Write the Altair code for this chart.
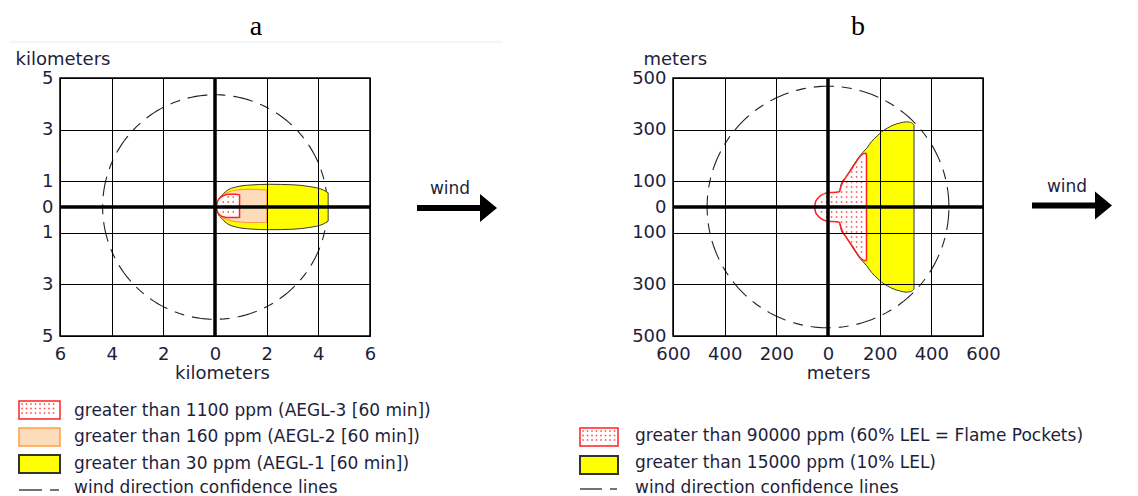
import altair as alt
import numpy as np
import pandas as pd

FONT = "DejaVu Sans"
TXT = "#1e1e3c"

# ---------------- panel a (kilometers) ----------------
XT_A = [-6, -4, -2, 0, 2, 4, 6]
YT_A = [-5, -3, -1, 0, 1, 3, 5]
R_A = 4.35
A_YEL_X = [0.05, 0.12, 0.25, 0.44, 0.83, 1.34, 2.12, 3.02, 3.67, 4.19, 4.38]
A_YEL_H = [0.0, 0.25, 0.43, 0.62, 0.78, 0.85, 0.88, 0.86, 0.79, 0.66, 0.55]
A_ORA_X = [0.08, 0.15, 0.3, 0.5, 0.8, 1.2, 1.6, 2.0]
A_ORA_TOP = [0.0, 0.25, 0.45, 0.57, 0.65, 0.68, 0.68, 0.66]
A_ORA_BOT = [0.0, -0.22, -0.4, -0.5, -0.57, -0.6, -0.6, -0.6]
A_RED_X = [0.05, 0.1, 0.2, 0.35, 0.55, 0.8, 0.95]
A_RED_TOP = [0.0, 0.22, 0.36, 0.45, 0.49, 0.49, 0.47]
A_RED_BOT = [0.0, -0.2, -0.32, -0.39, -0.41, -0.41, -0.4]
LEG_A = ["greater than 1100 ppm (AEGL-3 [60 min])",
         "greater than 160 ppm (AEGL-2 [60 min])",
         "greater than 30 ppm (AEGL-1 [60 min])",
         "wind direction confidence lines"]

# ---------------- panel b (meters) ----------------
XT_B = [-600, -400, -200, 0, 200, 400, 600]
YT_B = [-500, -300, -100, 0, 100, 300, 500]
R_B = 468
B_YEL_X = [45, 52, 71, 97, 123, 150, 168, 190, 207, 230, 252, 280, 303, 320, 333]
B_YEL_H = [60, 92, 118, 160, 198, 228, 253, 275, 291, 306, 317, 326, 330, 328, 318]
B_RED_X = [-52, -48, -40, -26, -10, 6, 30, 45, 50, 58, 71, 85, 97, 110, 123, 136, 146, 149]
B_RED_H = [0, 20, 33, 46, 53, 56, 57, 60, 78, 98, 118, 138, 156, 176, 195, 206, 208, 205]
LEG_B = ["greater than 90000 ppm (60% LEL = Flame Pockets)",
         "greater than 15000 ppm (10% LEL)",
         "wind direction confidence lines"]

YEL, YEL_S = "#ffff00", "#3a3a2a"
ORA, ORA_S = "#fddcbc", "#ffa040"
RED, RED_S = "#ffffff", "#ff2020"
DOT = "#ff3a3a"

ONE = pd.DataFrame({"k": [0]})
ARROW = "M-1,-0.075L0.575,-0.075L0.575,-0.35L1,0L0.575,0.35L0.575,0.075L-1,0.075Z"


def common_axis():
    return dict(grid=True, gridColor="black", gridOpacity=1, gridWidth=1,
                ticks=False, domain=False, labelFont=FONT, labelFontSize=18,
                labelColor=TXT, titleFont=FONT, titleFontSize=18,
                titleFontWeight="normal", titleColor=TXT, zindex=1,
                labelFlush=False, labelOverlap=False,
                labelExpr="abs(datum.value)")


def text(label, px, py, size=17, align="left", baseline="middle", font=FONT, color=TXT):
    return alt.Chart(ONE).mark_text(text=label, font=font, fontSize=size, align=align,
                                    baseline=baseline, color=color).encode(
        x=alt.value(px), y=alt.value(py))


def hrule(x1, x2, py, color, width, opacity=1):
    return alt.Chart(ONE).mark_rule(color=color, strokeWidth=width, opacity=opacity).encode(
        x=alt.value(x1), x2=alt.value(x2), y=alt.value(py))


def swatch(x1, x2, y1, y2, fill, stroke, sw):
    return alt.Chart(ONE).mark_rect(fill=fill, stroke=stroke, strokeWidth=sw).encode(
        x=alt.value(x1), x2=alt.value(x2), y=alt.value(y1), y2=alt.value(y2))


def swatch_dots(x1, x2, y1, y2, color, step=4.5):
    # dotted texture inside a legend swatch (screen pixels)
    gx = np.arange(x1 + 3, x2 - 2, step)
    gy = np.arange(y1 + 3, y2 - 2, step)
    xx, yy = np.meshgrid(gx, gy)
    df = pd.DataFrame({"px": xx.ravel(), "py": yy.ravel()})
    return alt.Chart(df).mark_square(size=2.2, color=color, opacity=1).encode(
        x=alt.X("px:Q", scale=None), y=alt.Y("py:Q", scale=None))


def arrow(px, py):
    return alt.Chart(ONE).mark_point(shape=ARROW, size=6400, filled=True, color="black",
                                     opacity=1).encode(x=alt.value(px), y=alt.value(py))


def base_layers(xdom, ydom, xt, yt, unit, xtitle_x, ytitle_x, R):
    sx = alt.Scale(domain=xdom, nice=False, zero=False)
    sy = alt.Scale(domain=ydom, nice=False, zero=False)
    ax = alt.Axis(values=xt, title=unit, titleX=xtitle_x, titleY=42, titleAlign="center",
                  titleBaseline="alphabetic", labelPadding=9, **common_axis())
    ay = alt.Axis(values=yt, title=unit, titleAngle=0, titleX=ytitle_x, titleY=-14,
                  titleAlign="left", titleBaseline="alphabetic", labelPadding=7,
                  **common_axis())
    X = alt.X("x:Q", scale=sx, axis=ax)
    Y = alt.Y("y:Q", scale=sy, axis=ay)
    t = np.linspace(0, 2 * np.pi, 241)
    circ = pd.DataFrame({"x": R * np.cos(t), "y": R * np.sin(t), "i": np.arange(len(t))})
    circle = alt.Chart(circ).mark_line(color="#222222", strokeWidth=1.1,
                                       strokeDash=[20, 8, 10, 8]).encode(
        x=X, y=Y, order="i:Q")
    return X, Y, circle


def area(xs, top, bot, X, Y, fill, stroke, sw):
    df = pd.DataFrame({"x": xs, "y": top, "y2": bot})
    return alt.Chart(df).mark_area(fill=fill, fillOpacity=1, stroke=stroke, strokeWidth=sw,
                                   interpolate="monotone").encode(x=X, y=Y, y2="y2:Q")


def area_dots(xs, top, bot, X, Y, ux, uy, color, step=5.0, margin=2.0):
    # dotted fill texture of a region; ux, uy = data units per screen pixel
    xs, top, bot = np.array(xs, float), np.array(top, float), np.array(bot, float)
    gx = np.arange(xs.min() + margin * ux, xs.max() - margin * ux, step * ux)
    ys0 = np.floor(bot.min() / (step * uy)) * step * uy
    gy = np.arange(ys0, top.max(), step * uy)
    px, py = [], []
    for x in gx:
        t = np.interp(x, xs, top) - margin * uy
        b = np.interp(x, xs, bot) + margin * uy
        for y in gy:
            if b < y < t:
                px.append(x)
                py.append(y)
    df = pd.DataFrame({"x": px, "y": py})
    return alt.Chart(df).mark_square(size=2.2, color=color, opacity=1).encode(x=X, y=Y)


def zero_rules(X, Y):
    vx = alt.Chart(pd.DataFrame({"x": [0]})).mark_rule(color="black", strokeWidth=3.5).encode(x=X)
    hy = alt.Chart(pd.DataFrame({"y": [0]})).mark_rule(color="black", strokeWidth=3.5).encode(y=Y)
    return [vx, hy]


# ----- panel a -----
UXA, UYA = 12 / 310, 10 / 258
Xa, Ya, circ_a = base_layers([-6, 6], [-5, 5], XT_A, YT_A, "kilometers", 162, -45, R_A)
layers_a = [
    hrule(-50, 517, -69, "white", 0, opacity=0),      # layout anchor
    hrule(-50, 442, -36, "#ececec", 1),
    text("a", 196, -43, size=28, align="center", baseline="alphabetic",
         font="Liberation Serif", color="black"),
    circ_a,
    area(A_YEL_X, A_YEL_H, [-h for h in A_YEL_H], Xa, Ya, YEL, YEL_S, 1),
    area(A_ORA_X, A_ORA_TOP, A_ORA_BOT, Xa, Ya, ORA, ORA_S, 1.2),
    area(A_RED_X, A_RED_TOP, A_RED_BOT, Xa, Ya, RED, RED_S, 1.5),
    area_dots(A_RED_X, A_RED_TOP, A_RED_BOT, Xa, Ya, UXA, UYA, DOT),
    *zero_rules(Xa, Ya),
    text("wind", 390, 115.5, align="center", baseline="alphabetic"),
    arrow(397, 130),
    swatch(-41, 0, 323, 341, RED, RED_S, 1.5),
    swatch_dots(-41, 0, 323, 341, DOT),
    swatch(-41, 0, 350, 368, ORA, ORA_S, 1.5),
    swatch(-41, 0, 377, 395, YEL, "#333333", 2),
    hrule(-41, -18, 412, "#444444", 1.5),
    hrule(-10, -1, 412, "#444444", 1.5),
]
for i, (lab, yy) in enumerate(zip(LEG_A, [332.5, 359.3, 386, 410])):
    layers_a.append(text(lab, 14, yy))
panel_a = alt.layer(*layers_a).properties(width=310, height=258)

# ----- panel b -----
UXB, UYB = 1200 / 310, 1000 / 258
Xb, Yb, circ_b = base_layers([-600, 600], [-500, 500], XT_B, YT_B, "meters", 165, -30, R_B)
layers_b = [
    hrule(-93, -92, -69, "white", 0, opacity=0),      # layout anchor
    text("b", 185, -43, size=28, align="center", baseline="alphabetic",
         font="Liberation Serif", color="black"),
    circ_b,
    area(B_YEL_X, B_YEL_H, [-h for h in B_YEL_H], Xb, Yb, YEL, YEL_S, 1),
    area(B_RED_X, B_RED_H, [-h for h in B_RED_H], Xb, Yb, RED, RED_S, 1.5),
    area_dots(B_RED_X, B_RED_H, [-h for h in B_RED_H], Xb, Yb, UXB, UYB, DOT),
    *zero_rules(Xb, Yb),
    text("wind", 394, 113.5, align="center", baseline="alphabetic"),
    arrow(399, 127.5),
    swatch(-93, -55, 350, 368, RED, RED_S, 1.5),
    swatch_dots(-93, -55, 350, 368, DOT),
    swatch(-93, -55, 378, 396, YEL, "#333333", 2),
    hrule(-93, -71, 411, "#444444", 1.5),
    hrule(-63, -56, 411, "#444444", 1.5),
]
for i, (lab, yy) in enumerate(zip(LEG_B, [358, 385, 409.5])):
    layers_b.append(text(lab, -38, yy))
panel_b = alt.layer(*layers_b).properties(width=310, height=258)

chart = alt.hconcat(panel_a, panel_b, spacing=0).properties(padding=0).configure_view(
    stroke="black", strokeWidth=1.5)

chart.save("out.html", embed_options={"renderer": "svg", "actions": False})
